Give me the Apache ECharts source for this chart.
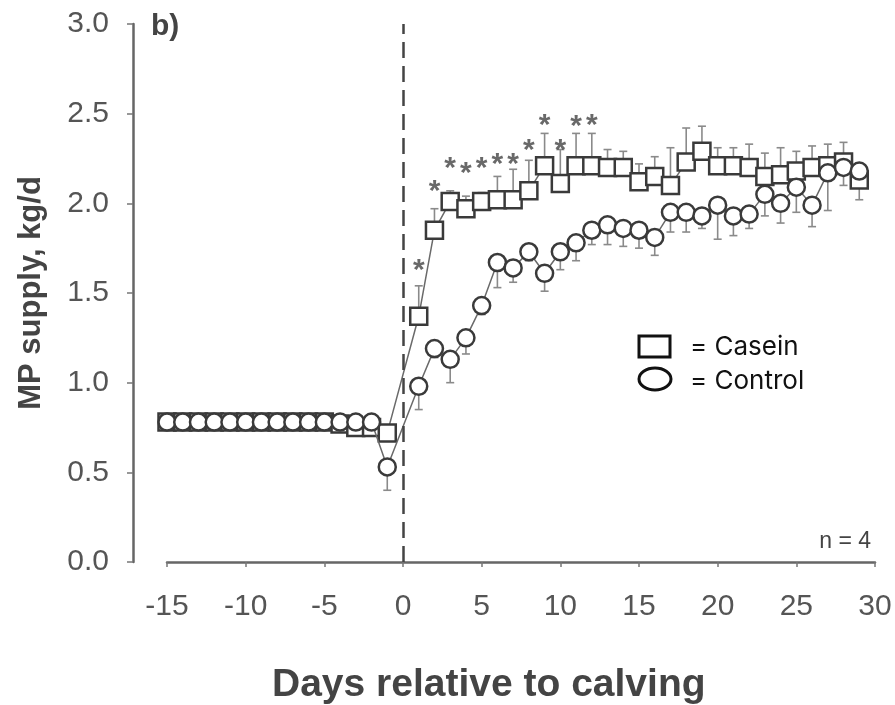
<!DOCTYPE html>
<html>
<head>
<meta charset="utf-8">
<script src="https://cdn.jsdelivr.net/npm/echarts@6/dist/echarts.min.js"></script>
<style>html,body{margin:0;padding:0;background:#fff}#c{width:895px;height:705px}</style>
</head>
<body>
<div id="c"></div>
<script>
// Days relative to calving (no observation on day 0)
const days = [-15,-14,-13,-12,-11,-10,-9,-8,-7,-6,-5,-4,-3,-2,-1,
  1,2,3,4,5,6,7,8,9,10,11,12,13,14,15,16,17,18,19,20,21,22,23,24,25,26,27,28,29];
// Casein (squares)
const caseinMP = [0.78,0.78,0.78,0.78,0.78,0.78,0.78,0.78,0.78,0.78,0.78,0.77,0.75,0.75,0.72,
  1.37,1.85,2.01,1.97,2.01,2.02,2.02,2.07,2.21,2.11,2.21,2.21,2.20,2.20,2.12,2.15,2.10,2.23,2.29,2.21,2.21,2.20,2.15,2.16,2.18,2.20,2.21,2.23,2.13];
const caseinSE = [0.01,0.01,0.01,0.01,0.01,0.01,0.01,0.01,0.01,0.01,0.01,0.01,0.01,0.01,0.03,
  0.17,0.12,0.06,0.07,0.05,0.13,0.17,0.17,0.18,0.19,0.18,0.18,0.10,0.09,0.10,0.11,0.21,0.19,0.14,0.10,0.10,0.13,0.13,0.15,0.11,0.12,0.12,0.11,0.08];
// Control (circles)
const controlMP = [0.78,0.78,0.78,0.78,0.78,0.78,0.78,0.78,0.78,0.78,0.78,0.78,0.78,0.78,0.53,
  0.98,1.19,1.13,1.25,1.43,1.67,1.64,1.73,1.61,1.73,1.78,1.85,1.88,1.86,1.85,1.81,1.95,1.95,1.93,1.99,1.93,1.94,2.05,2.00,2.09,1.99,2.17,2.20,2.18];
const controlSE = [0.01,0.01,0.01,0.01,0.01,0.01,0.01,0.01,0.01,0.01,0.01,0.01,0.01,0.01,0.13,
  0.13,0.05,0.13,0.09,0.05,0.14,0.08,0.05,0.10,0.10,0.10,0.08,0.11,0.10,0.10,0.10,0.11,0.11,0.07,0.19,0.11,0.08,0.12,0.11,0.14,0.12,0.21,0.10,0.16];
// Significance markers
const starDays = [1,2,3,4,5,6,7,8,9,10,11,12];
const starY = [1.67,2.11,2.24,2.21,2.24,2.26,2.26,2.34,2.48,2.34,2.47,2.48];

const FONT = '"Liberation Sans", Arial, Helvetica, sans-serif';
const MARK = '#3a3a3a';

const casPts = days.map((d,i)=>[d, caseinMP[i]]);
const conPts = days.map((d,i)=>[d, controlMP[i]]);
const casErr = days.map((d,i)=>[d, caseinMP[i], caseinMP[i]+caseinSE[i]]);
const conErr = days.map((d,i)=>[d, controlMP[i], controlMP[i]-controlSE[i]]);

function errItem(params, api){
  const x = api.value(0), y = api.value(1), e = api.value(2);
  const p1 = api.coord([x,y]), p2 = api.coord([x,e]);
  const st = {stroke:'#8a8a8a', lineWidth:1.6};
  return {type:'group', children:[
    {type:'line', shape:{x1:p1[0],y1:p1[1],x2:p2[0],y2:p2[1]}, style:st},
    {type:'line', shape:{x1:p2[0]-4,y1:p2[1],x2:p2[0]+4,y2:p2[1]}, style:st}
  ]};
}

const chart = echarts.init(document.getElementById('c'), null, {renderer:'canvas'});
chart.setOption({
  animation:false,
  backgroundColor:'#fff',
  grid:{left:167, right:20, top:24, bottom:143},
  xAxis:{type:'value', min:-15, max:30, interval:5,
    axisLine:{onZero:false, lineStyle:{color:'#666', width:2.5}},
    axisTick:{length:5, lineStyle:{color:'#777', width:1.5}},
    axisLabel:{color:'#555', fontSize:30, fontFamily:FONT, margin:30},
    splitLine:{show:false}},
  yAxis:{type:'value', min:0, max:3, interval:0.5, offset:34,
    name:'MP supply, kg/d', nameLocation:'middle', nameGap:86,
    nameTextStyle:{color:'#444', fontSize:31, fontWeight:'bold', fontFamily:FONT},
    axisLine:{show:true, onZero:false, lineStyle:{color:'#666', width:2.5}},
    axisTick:{show:true, length:6, lineStyle:{color:'#777', width:1.5}},
    axisLabel:{color:'#555', fontSize:30, fontFamily:FONT, margin:24, formatter:v=>v.toFixed(1)},
    splitLine:{show:false}},
  series:[
    {type:'custom', renderItem:errItem, data:casErr, z:1, silent:true},
    {type:'custom', renderItem:errItem, data:conErr, z:1, silent:true},
    {type:'line', data:casPts, z:3, symbol:'rect', symbolSize:17,
      lineStyle:{color:'#6a6a6a', width:1.5},
      itemStyle:{color:'#fff', borderColor:MARK, borderWidth:2.5},
      markLine:{silent:true, symbol:'none', label:{show:false},
        lineStyle:{color:'#444', width:2.5, type:[16,8]},
        data:[{xAxis:0}]}},
    {type:'line', data:conPts, z:4, symbol:'circle', symbolSize:17,
      lineStyle:{color:'#6a6a6a', width:1.5},
      itemStyle:{color:'#fff', borderColor:MARK, borderWidth:2.5}},
    {type:'scatter', data:starDays.map((d,i)=>[d, starY[i]]), z:5, symbol:'circle', symbolSize:1,
      itemStyle:{color:'rgba(0,0,0,0)'},
      label:{show:true, formatter:'*', position:'inside', offset:[0,8],
        color:'#444', fontSize:30, fontWeight:'bold', fontFamily:FONT}}
  ],
  graphic:[
    {type:'text', left:151, top:12, style:{text:'b)', font:'bold 30px '+FONT, fill:'#444'}},
    {type:'text', right:24, top:530, style:{text:'n = 4', font:'23px '+FONT, fill:'#444'}},
    {type:'text', left:272, top:666, style:{text:'Days relative to calving', font:'bold 39px '+FONT, fill:'#444'}},
    {type:'rect', shape:{x:639, y:336, width:31, height:21}, style:{fill:'#fff', stroke:'#111', lineWidth:3}},
    {type:'ellipse', shape:{cx:655, cy:379, rx:16, ry:11}, style:{fill:'#fff', stroke:'#111', lineWidth:3}},
    {type:'text', left:690, top:334, style:{text:'= Casein', font:'26px Inter, "Noto Sans", sans-serif', fill:'#111'}},
    {type:'text', left:690, top:368, style:{text:'= Control', font:'26px Inter, "Noto Sans", sans-serif', fill:'#111'}}
  ]
});
</script>
</body>
</html>
